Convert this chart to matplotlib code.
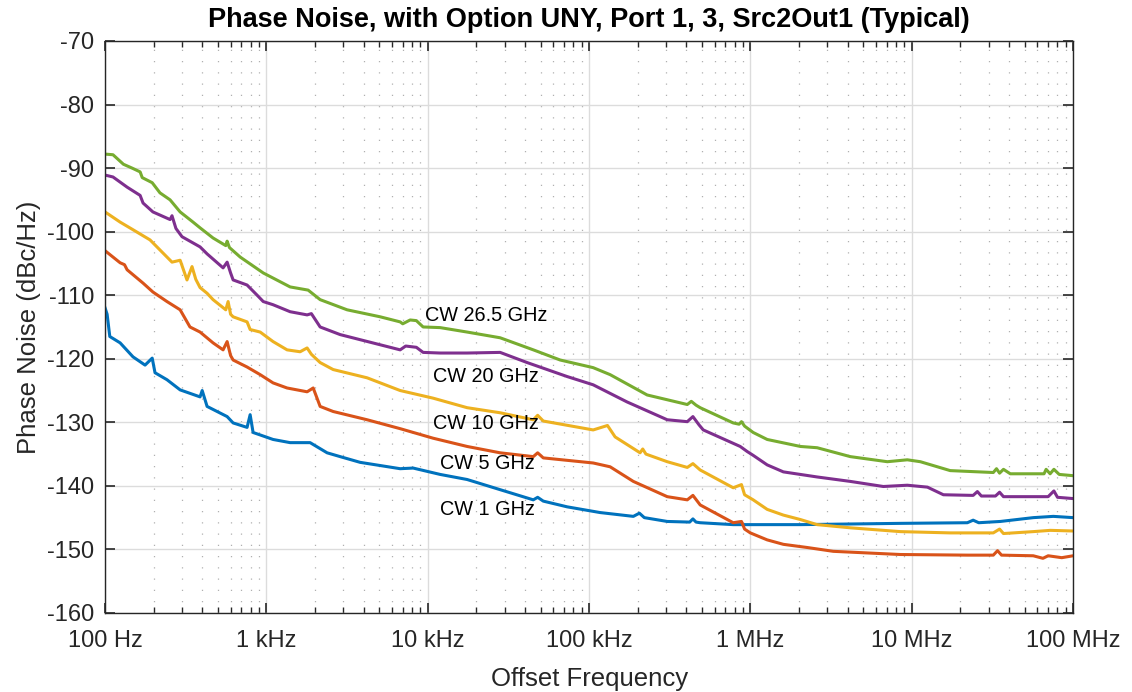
import matplotlib
matplotlib.use("Agg")
import matplotlib.pyplot as plt
from matplotlib.ticker import FixedLocator, LogLocator, NullFormatter

plt.rcParams['font.family'] = ['Liberation Sans', 'DejaVu Sans']
plt.rcParams['axes.unicode_minus'] = False

# offset frequency (Hz) / phase noise (dBc/Hz)
f_265 = [100, 112, 130, 147, 165, 170, 196, 219, 253, 292, 351, 388, 467, 560, 571, 590,
         688, 956, 1403, 1814, 2153, 3164, 5070, 6745, 7000, 7780, 8500, 9360, 11930,
         17540, 28100, 45100, 66200, 106000, 135000, 229000, 406000, 430000, 460000,
         488000, 782000, 850000, 880000, 920000, 1.04e6, 1.27e6, 2.04e6, 2.59e6, 4.16e6,
         7.05e6, 9.38e6, 1.13e7, 1.73e7, 3.2e7, 3.35e7, 3.5e7, 3.7e7, 4.08e7, 6.6e7,
         6.8e7, 7.2e7, 7.6e7, 8.2e7, 1e8]
pn_265 = [-87.8, -87.9, -89.4, -90.0, -90.6, -91.5, -92.3, -93.9, -95.0, -96.9, -98.5, -99.4,
          -101.0, -102.2, -101.5, -102.5, -104.0, -106.5, -108.7, -109.2, -110.7, -112.3,
          -113.4, -114.2, -114.5, -113.9, -114.0, -115.0, -115.1, -115.8, -116.7, -118.6,
          -120.2, -121.4, -122.5, -125.7, -127.2, -126.7, -127.3, -127.7, -130.1, -130.3,
          -129.9, -130.6, -131.6, -132.7, -133.8, -134.0, -135.4, -136.2, -135.9, -136.2,
          -137.6, -137.9, -137.3, -138.0, -137.4, -138.1, -138.1, -137.4, -138.1, -137.4,
          -138.2, -138.4]

f_20 = [100, 112, 137, 165, 172, 198, 253, 260, 275, 300, 388, 429, 539, 571, 600, 622,
        759, 876, 956, 1100, 1403, 1788, 1900, 2153, 2865, 3810, 5070, 6745, 7300, 8500,
        9360, 11930, 17540, 28100, 41300, 73100, 106000, 172000, 305000, 406000, 440000,
        480000, 510000, 864000, 955000, 1.04e6, 1.27e6, 1.6e6, 2.59e6, 4.16e6, 6.66e6,
        9.38e6, 1.25e7, 1.57e7, 2.4e7, 2.55e7, 2.7e7, 3.3e7, 3.5e7, 3.7e7, 7.0e7, 7.6e7,
        8.0e7, 1e8]
pn_20 = [-91.1, -91.4, -93.0, -94.3, -95.5, -96.9, -98.1, -97.5, -99.5, -100.8, -102.4,
         -103.5, -105.7, -104.8, -106.5, -107.6, -108.4, -110.0, -111.0, -111.5, -112.6,
         -113.1, -112.9, -115.0, -116.2, -117.0, -117.8, -118.6, -118.0, -118.2, -119.0,
         -119.1, -119.1, -119.0, -120.6, -122.8, -124.1, -126.8, -129.6, -129.9, -129.1,
         -130.4, -131.2, -133.8, -134.6, -135.2, -136.7, -137.8, -138.6, -139.3, -140.1,
         -139.9, -140.2, -141.4, -141.5, -140.9, -141.6, -141.6, -141.0, -141.7, -141.7,
         -140.8, -141.8, -142.0]

f_10 = [100, 124, 149, 190, 242, 260, 292, 322, 346, 365, 388, 429, 467, 560, 579, 600,
        622, 759, 793, 915, 1100, 1343, 1618, 1788, 1900, 2153, 2593, 4210, 6745, 10790,
        17540, 28100, 45100, 48000, 52000, 106000, 130000, 145000, 207000, 215000, 225000,
        305000, 406000, 440000, 488000, 782000, 880000, 920000, 1.04e6, 1.27e6, 1.6e6,
        2.04e6, 2.59e6, 4.16e6, 8.49e6, 1.73e7, 3.2e7, 3.5e7, 3.7e7, 5.66e7, 7.22e7, 1e8]
pn_10 = [-96.9, -98.5, -99.7, -101.3, -104.0, -104.8, -104.5, -107.6, -105.5, -107.5,
         -108.8, -109.7, -110.7, -112.3, -111.0, -113.0, -113.4, -114.2, -115.4, -115.8,
         -117.3, -118.6, -118.9, -118.3, -119.3, -120.6, -121.7, -123.0, -125.0, -126.2,
         -127.7, -128.5, -129.6, -128.9, -129.8, -131.2, -130.5, -132.3, -134.8, -134.2,
         -135.0, -136.2, -137.1, -136.5, -137.5, -140.3, -139.8, -141.4, -142.2, -143.7,
         -144.6, -145.3, -146.1, -146.6, -147.2, -147.4, -147.4, -146.8, -147.5, -147.2,
         -147.0, -147.1]

f_5 = [100, 124, 132, 137, 172, 198, 242, 292, 336, 388, 467, 539, 571, 600, 622, 759,
       915, 1100, 1343, 1788, 1950, 2153, 2593, 4210, 6745, 10790, 17540, 28100, 45100,
       48000, 52000, 106000, 135000, 188000, 305000, 406000, 440000, 488000, 782000,
       880000, 920000, 998000, 1.27e6, 1.6e6, 2.25e6, 3.26e6, 8.49e6, 2.21e7, 3.2e7,
       3.4e7, 3.6e7, 5.66e7, 6.5e7, 7.0e7, 8.5e7, 1e8]
pn_5 = [-103.0, -104.9, -105.2, -106.0, -108.1, -109.5, -111.0, -112.3, -115.0, -115.8,
        -117.5, -118.6, -117.3, -119.5, -120.2, -121.3, -122.5, -123.8, -124.6, -125.2,
        -124.6, -127.5, -128.3, -129.6, -131.0, -132.5, -133.8, -134.8, -135.4, -134.8,
        -135.6, -136.4, -137.0, -139.3, -141.7, -142.2, -141.5, -143.0, -145.8, -145.6,
        -146.8, -147.4, -148.5, -149.2, -149.7, -150.3, -150.8, -150.9, -150.9, -150.2,
        -150.9, -151.0, -151.4, -151.0, -151.3, -151.0]

f_1 = [100, 103, 107, 124, 149, 177, 196, 204, 242, 292, 388, 400, 429, 571, 622, 759,
       793, 827, 1100, 1403, 1866, 2378, 2865, 3810, 6745, 8120, 11930, 17540, 28100,
       45100, 48000, 52000, 73100, 117000, 188000, 205000, 220000, 305000, 420000, 440000,
       460000, 488000, 782000, 2.04e6, 8.49e6, 2.21e7, 2.4e7, 2.6e7, 3.54e7, 5.66e7,
       7.54e7, 1e8]
pn_1 = [-112.0, -113.0, -116.5, -117.5, -119.7, -121.0, -119.9, -122.2, -123.3, -124.9,
        -126.0, -125.0, -127.5, -129.1, -130.1, -130.8, -128.8, -131.6, -132.7, -133.2,
        -133.2, -134.8, -135.4, -136.3, -137.3, -137.2, -138.2, -139.0, -140.6, -142.2,
        -141.8, -142.4, -143.3, -144.2, -144.8, -144.3, -145.0, -145.6, -145.7, -145.2,
        -145.7, -145.8, -146.1, -146.1, -145.9, -145.8, -145.4, -145.8, -145.6, -145.0,
        -144.8, -145.0]

series = [(f_1, pn_1, '#0072BD'), (f_5, pn_5, '#D95319'), (f_10, pn_10, '#EDB120'),
          (f_20, pn_20, '#7E2F8E'), (f_265, pn_265, '#77AC30')]

labels = ['CW 26.5 GHz', 'CW 20 GHz', 'CW 10 GHz', 'CW 5 GHz', 'CW 1 GHz']
label_x = [9640, 10800, 10800, 11900, 11900]
label_y = [-113.2, -122.8, -130.2, -136.5, -143.7]

xticks = [1e2, 1e3, 1e4, 1e5, 1e6, 1e7, 1e8]
xticklabels = ['100 Hz', '1 kHz', '10 kHz', '100 kHz', '1 MHz', '10 MHz', '100 MHz']
yticks = list(range(-160, -69, 10))

fig = plt.figure(figsize=(11.32, 6.92), dpi=100)
ax = fig.add_axes([0.0928, 0.1142, 0.8552, 0.8266])

for f, pn, c in series:
    ax.plot(f, pn, color=c, lw=2.2, solid_joinstyle='round')

for t, x, y in zip(labels, label_x, label_y):
    ax.text(x, y, t, fontsize=14.3, va='center', ha='left', color='black')

ax.set_xscale('log')
ax.set_xlim(1e2, 1e8)
ax.set_ylim(-160, -70)
ax.xaxis.set_major_locator(FixedLocator(xticks))
ax.set_xticklabels(xticklabels)
ax.xaxis.set_minor_locator(LogLocator(base=10, subs=range(2, 10), numticks=20))
ax.xaxis.set_minor_formatter(NullFormatter())
ax.set_yticks(yticks)

ax.grid(which='major', color='#dcdcdc', lw=1.0)
ax.grid(which='minor', axis='x', color='#b0b0b0', lw=0.9, ls=(0, (1, 8)))
ax.set_axisbelow(True)

ax.tick_params(which='both', direction='in', top=True, right=True, colors='#262626',
               labelsize=17)
ax.tick_params(which='major', length=7, width=1.2)
ax.tick_params(which='minor', length=4, width=1.0)
ax.tick_params(axis='x', pad=12)
ax.tick_params(axis='y', pad=8)
for s in ax.spines.values():
    s.set_color('#262626')
    s.set_linewidth(1.0)

ax.set_xlabel('Offset Frequency', fontsize=18.5, color='#262626', labelpad=11)
ax.set_ylabel('Phase Noise (dBc/Hz)', fontsize=18.5, color='#262626', labelpad=4)
ax.set_title('Phase Noise, with Option UNY, Port 1, 3, Src2Out1 (Typical)',
             fontsize=19.5, fontweight='bold', pad=10)

fig.savefig('out.png', dpi=100)
